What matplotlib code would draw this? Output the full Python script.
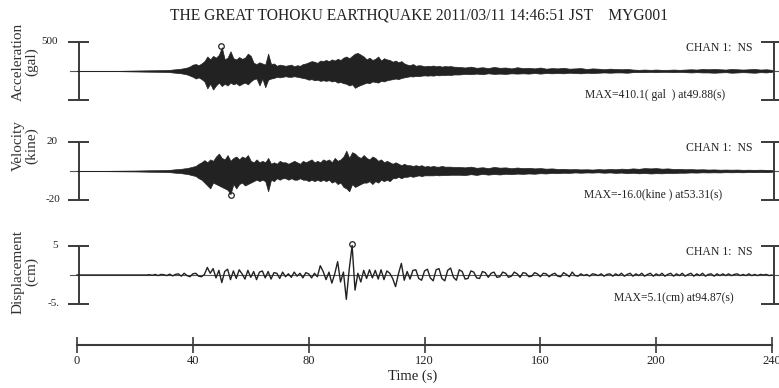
import numpy as np
import matplotlib
matplotlib.use("Agg")
import matplotlib.pyplot as plt

plt.rcParams['font.family'] = ['Liberation Serif', 'DejaVu Serif']

# ---- data ----
# envelope of the dense traces: quiet start every 5 s, strong part every 1 s, coda every 2 s
t_env = np.concatenate([np.arange(0, 30, 5), np.arange(30, 131, 1), np.arange(132, 241, 2)])

acc_up = [0, 0, 1, 3, 8, 12,
          15, 18, 20, 25, 30, 35, 40,
          50, 60, 80, 110, 120, 100, 130,
          170, 250, 200, 260, 230, 280, 410,
          200, 230, 340, 220, 200, 240, 210,
          230, 300, 260, 140, 120, 150, 130,
          110, 300, 120, 130, 90, 110, 100,
          90, 100, 110, 80, 100, 90, 120,
          130, 150, 170, 160, 140, 180, 170,
          190, 170, 200, 180, 210, 190, 230,
          250, 220, 260, 300, 310, 280, 250,
          200, 230, 190, 210, 250, 180, 220,
          200, 190, 160, 180, 150, 170, 130,
          110, 100, 120, 90, 100, 95, 80,
          90, 85, 95, 80, 90, 75, 85,
          80, 85, 75,
          70, 60, 75, 55, 65, 50, 70, 55, 60, 45, 65,
          50, 55, 45, 60, 40, 50, 45, 55, 40, 45, 50,
          35, 45, 40, 30, 40, 35, 30, 35, 25, 20, 25,
          20, 25, 20, 20, 25, 20, 25, 30, 25, 35, 30,
          35, 30, 25, 35, 30, 25, 30, 35, 25, 30, 20]
acc_lo = [0, 0, 1, 3, 8, 12,
          15, 18, 20, 25, 30, 35, 40,
          50, 60, 80, 100, 130, 110, 140,
          180, 300, 220, 320, 250, 200, 260,
          220, 250, 200, 230, 210, 250, 220,
          200, 230, 180, 140, 130, 250, 130,
          280, 150, 130, 120, 100, 110, 100,
          90, 100, 100, 90, 100, 110, 120,
          130, 150, 140, 160, 150, 170, 160,
          170, 160, 180, 170, 200, 190, 210,
          220, 250, 230, 290, 260, 240, 220,
          200, 210, 180, 190, 200, 170, 180,
          160, 150, 140, 130, 140, 120, 110,
          100, 90, 95, 85, 90, 80, 75,
          80, 75, 80, 70, 75, 70, 70,
          65, 70, 60,
          60, 50, 55, 45, 55, 40, 50, 45, 50, 40, 45,
          40, 45, 35, 45, 35, 40, 35, 40, 30, 35, 40,
          30, 35, 30, 25, 30, 25, 25, 30, 20, 20, 20,
          15, 20, 15, 15, 20, 15, 20, 25, 20, 25, 25,
          30, 25, 20, 30, 25, 20, 25, 30, 20, 25, 15]

vel_up = [0, 0, 0.1, 0.2, 0.3, 0.5,
          0.6, 0.7, 0.8, 1.0, 1.2, 1.3, 1.5,
          1.8, 2.0, 2.5, 3, 3.5, 5, 6,
          7.5, 6, 8, 7, 10, 12, 9,
          8, 11, 7, 9, 10, 8, 10,
          9, 11, 7, 6, 8, 6, 7,
          6, 9, 5, 6, 5, 7, 6,
          6, 5, 6, 7, 6, 5, 7,
          6, 7, 8, 6, 7, 6, 8,
          7, 8, 6, 9, 7, 8, 10,
          14, 9, 13, 12, 10, 9, 11,
          9, 8, 10, 9, 7, 8, 6,
          7, 6, 5, 6, 5, 4, 5,
          4, 4, 3.5, 4, 3.5, 4, 3,
          3.5, 3, 3.5, 3, 3, 3.5, 3,
          3, 3, 2.8,
          2.8, 2.5, 3.0, 2.2, 2.6, 2.0, 2.8, 2.3, 2.5, 1.9, 2.4,
          2.0, 2.2, 1.8, 2.0, 1.6, 1.8, 1.4, 1.5, 1.2, 1.3, 1.1,
          1.2, 1.0, 1.3, 1.1, 1.4, 1.2, 1.6, 1.4, 1.8, 1.5, 2.0,
          1.8, 2.0, 1.6, 1.8, 1.4, 1.5, 1.2, 1.3, 1.1, 1.2, 1.0,
          1.1, 0.9, 1.0, 0.9, 1.0, 0.8, 0.9, 0.8, 0.9, 0.8, 0.7]
vel_lo = [0, 0, 0.1, 0.2, 0.3, 0.5,
          0.6, 0.7, 0.8, 1.0, 1.2, 1.3, 1.5,
          1.8, 2.0, 2.5, 3, 3.5, 5, 6,
          8, 10, 12, 8, 9, 10, 11,
          12, 13, 16, 9, 12, 9, 8,
          10, 9, 8, 7, 6, 7, 6,
          7, 14, 6, 7, 5, 6, 5,
          5, 6, 5, 6, 6, 5, 6,
          6, 7, 6, 7, 6, 7, 6,
          7, 6, 8, 7, 9, 8, 11,
          12, 14, 9, 11, 10, 9, 8,
          8, 7, 9, 7, 8, 6, 7,
          6, 7, 5, 5, 4, 5, 4,
          4, 3.5, 4, 3.5, 3, 3.5, 3,
          3, 3, 3, 2.8, 3, 2.8, 2.8,
          2.8, 2.6, 2.6,
          2.6, 2.8, 2.2, 2.7, 2.0, 2.5, 2.1, 2.4, 1.9, 2.2, 1.8,
          2.0, 1.7, 1.9, 1.5, 1.7, 1.3, 1.5, 1.2, 1.3, 1.0, 1.2,
          1.0, 1.1, 0.9, 1.2, 1.0, 1.3, 1.1, 1.5, 1.2, 1.6, 1.4,
          1.7, 1.5, 1.6, 1.3, 1.4, 1.2, 1.2, 1.0, 1.1, 0.9, 1.0,
          0.9, 1.0, 0.8, 0.9, 0.8, 0.9, 0.7, 0.8, 0.7, 0.8, 0.6]

# displacement trace, one value per second
t_disp = np.arange(0, 241, 1)
disp = [0] * 25 + [
    0.05, -0.05, 0.1, -0.1, 0.1, 0.05, -0.1, 0.15, -0.15, 0.1,
    0.2, -0.2, 0.3, -0.1, -0.3, 0.2, 0.3, -0.2, -0.3, 0.1,
    1.3, 0.3, 1.1, -0.5, 0.8, -1.3, 0.6, 1.0, -0.8, 0.7,
    -0.6, 0.9, 0.2, -0.7, 0.8, -0.4, 0.6, -0.8, 0.5, 0.7,
    -0.5, 0.6, -0.7, 0.4, 0.3, -0.6, 0.5, -0.3, 0.2, -0.4,
    0.5, -0.2, 0.3, -0.5, 0.4, 0.2, -0.5, 0.3, -0.3, 1.6,
    0.6, -0.8, 0.5, -1.4, 0.2, 2.3, -1.2, 0.5, -4.2, 1.0,
    5.1, -2.6, 0.3, -1.2, 0.8, -0.6, 0.9, -0.5, 0.8, -0.7,
    0.9, -0.8, 0.7, 0.3, -0.6, -2.0, 0.2, 2.0, -0.9, 0.6,
    -0.7, 0.8, 0.9, -0.6, -0.9, 0.7, 1.0, -0.5, -1.0, 0.9,
    1.1, -0.6, -1.0, 0.8, 1.2, -0.4, -0.9, 0.9, 0.6, -0.7,
    -0.6, 0.7, 0.5, -0.5, -0.6, 0.6, 0.4, -0.4, 0.3, 0.5,
    -0.4, -0.3, 0.5, 0.3, -0.4, -0.2, 0.5, 0.2, -0.4, 0.4,
    0.3, -0.3, -0.2, 0.4, 0.2, -0.3, 0.3, 0.2, -0.3, 0.1,
    0.3, -0.2, -0.3, 0.4, 0.1, -0.3, 0.5, -0.1, -0.2, 0.2,
    -0.1, 0.1, -0.2, 0.2, 0.1, -0.1, 0.2, -0.2, 0.1, 0.2,
    -0.2, 0.2, -0.1, 0.3, -0.2, 0.1, 0.3, -0.2, 0.2, -0.1,
    0.3, -0.2, 0.1, 0.3, -0.2, 0.2, -0.1, 0.3, -0.2, 0.1,
    0.3, -0.2, 0.2, -0.1, 0.3, -0.2, 0.1, 0.3, -0.2, 0.2,
    -0.1, 0.3, -0.2, 0.1, 0.2, -0.2, 0.2, -0.1, 0.2, -0.1,
    0.2, -0.1, 0.1, 0.2, -0.1, 0.1, -0.1, 0.2, -0.1, 0.1,
    -0.1, 0.1, 0.0, 0.1, -0.1, 0.0]

peaks = [(49.88, 410.1), (53.31, -16.0), (94.87, 5.1)]
scales = [500, 20, 5]
ylabels = ['Acceleration\n(gal)', 'Velocity\n(kine)', 'Displacement\n(cm)']
tick_top = ['500', '20', '5']
tick_bot = ['', '-20', '-5.']
max_txt = ['MAX=410.1( gal  ) at49.88(s)', 'MAX=-16.0(kine ) at53.31(s)', 'MAX=5.1(cm) at94.87(s)']
time_ticks = [0, 40, 80, 120, 160, 200, 240]

# ---- layout (pixels of the 779x388 picture) ----
W, H = 779, 388
X0 = 77.0          # pixel of t = 0
PXS = 2.896        # pixels per second
t_lo, t_hi = -X0 / PXS, (W - X0) / PXS
centers = [71, 171, 275]
label_y = [62, 146, 272]
max_right = [725, 722, 734]
ink = '#222222'
bar = '#3a3a3a'

fig = plt.figure(figsize=(W / 100, H / 100), dpi=100)


def px2t(x):
    return (x - X0) / PXS


panels = []
for i in range(3):
    c, s = centers[i], scales[i]
    ax = fig.add_axes([0, 1 - (c + 45) / H, 1, 90 / H])
    ax.set_xlim(t_lo, t_hi)
    ax.set_ylim(-s * 45 / 29, s * 45 / 29)
    ax.axis('off')
    # baseline
    ax.plot([px2t(70), t_hi], [0, 0], color='#555555', lw=0.8, zorder=1)
    # scale bars left and right
    for xb, xc in [(px2t(79), (px2t(69), px2t(88))), (px2t(774), (px2t(762), px2t(790)))]:
        ax.plot([xb, xb], [-s, s], color=bar, lw=1.4, solid_capstyle='butt')
        ax.plot(xc, [s, s], color=bar, lw=1.4)
        ax.plot(xc, [-s, -s], color=bar, lw=1.4)
    panels.append(ax)

# traces
panels[0].fill_between(t_env, -np.array(acc_lo), acc_up, color=ink, lw=0.5, zorder=2)
panels[1].fill_between(t_env, -np.array(vel_lo), vel_up, color=ink, lw=0.5, zorder=2)
panels[2].plot(t_disp, disp, color=ink, lw=1.0, zorder=2)

for i, ax in enumerate(panels):
    s = scales[i]
    pt, pv = peaks[i]
    ax.plot([pt], [pv + np.sign(pv) * s * 0.04], 'o', ms=4, mfc='none', mec=ink, mew=0.9)
    ax.text(px2t(58), s, tick_top[i], ha='right', va='center', fontsize=8, color=ink)
    ax.text(px2t(60), -s, tick_bot[i], ha='right', va='center', fontsize=8, color=ink)
    ax.text(px2t(752), s * 0.8, 'CHAN 1:  NS', ha='right', va='center', fontsize=8.5, color=ink)
    ax.text(px2t(max_right[i]), -s * 0.82, max_txt[i], ha='right', va='center', fontsize=8.4, color=ink)
    fig.text(25 / W, 1 - label_y[i] / H, ylabels[i], rotation=90, ha='center', va='center',
             fontsize=11, color='#333333', linespacing=1.0, multialignment='center')

# time axis
axt = fig.add_axes([0, 1 - 345 / H, 1, 0.001])
axt.set_xlim(t_lo, t_hi)
for side in ['top', 'left', 'right']:
    axt.spines[side].set_visible(False)
axt.spines['bottom'].set_bounds(0, 240)
axt.spines['bottom'].set_color(bar)
axt.spines['bottom'].set_linewidth(1.5)
axt.set_yticks([])
axt.set_xticks(time_ticks)
axt.tick_params(axis='x', direction='inout', length=11, width=1.2, color=bar,
                labelsize=9, labelcolor=ink, pad=2)
axt.patch.set_visible(False)
fig.text(413 / W, 1 - 376 / H, 'Time (s)', ha='center', va='center', fontsize=10.5, color=ink)

fig.text(419 / W, 1 - 15 / H, 'THE GREAT TOHOKU EARTHQUAKE 2011/03/11 14:46:51 JST    MYG001',
         ha='center', va='center', fontsize=11.2, color=ink)

fig.savefig('out.png', dpi=100)
